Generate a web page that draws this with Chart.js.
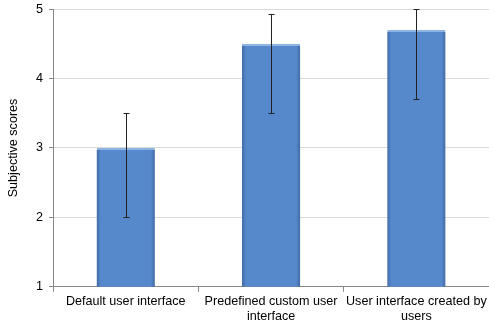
<!DOCTYPE html>
<html>
<head>
<meta charset="utf-8">
<script src="https://cdn.jsdelivr.net/npm/chart.js@4.4.0/dist/chart.umd.min.js"></script>
<style>
  html, body { margin: 0; padding: 0; background: #fff; }
  .chart-container { width: 489px; height: 324px; position: relative; }
</style>
</head>
<body>
<div class="chart-container"><canvas id="scoresChart"></canvas></div>
<script>
const categories = [
    'Default user interface',
    ['Predefined custom user', 'interface'],
    ['User interface created by', 'users']
];
const scores = [3.0, 4.5, 4.7];       // bar heights
const errLow = [2.0, 3.5, 3.7];       // lower end of error bar
const errHigh = [3.5, 4.93, 5.0];     // upper end of error bar
const yTicks = [1, 2, 3, 4, 5];

const ctx = document.getElementById('scoresChart').getContext('2d');
const labelFont = { family: 'Liberation Sans', size: 12.6 };

// Excel style shading on the sides of each bar
const barShade = {
    id: 'barShade',
    afterDatasetsDraw(chart) {
        const c = chart.ctx;
        const meta = chart.getDatasetMeta(0);
        const bottom = chart.chartArea.bottom;
        c.save();
        meta.data.forEach(bar => {
            const x0 = bar.x - bar.width / 2;
            const x1 = bar.x + bar.width / 2;
            const h = bottom - bar.y - 2;
            const gl = c.createLinearGradient(x0, 0, x0 + 4, 0);
            gl.addColorStop(0, 'rgba(40,70,120,0.45)');
            gl.addColorStop(1, 'rgba(40,70,120,0)');
            c.fillStyle = gl;
            c.fillRect(x0, bar.y + 2, 4, h);
            const gr = c.createLinearGradient(x1 - 4, 0, x1, 0);
            gr.addColorStop(0, 'rgba(40,70,120,0)');
            gr.addColorStop(1, 'rgba(40,70,120,0.45)');
            c.fillStyle = gr;
            c.fillRect(x1 - 4, bar.y + 2, 4, h);
        });
        c.restore();
    }
};

// Draw the error bars from errLow / errHigh
const errorBars = {
    id: 'errorBars',
    afterDatasetsDraw(chart) {
        const c = chart.ctx;
        const y = chart.scales.y;
        const meta = chart.getDatasetMeta(0);
        c.save();
        c.strokeStyle = '#222';
        c.lineWidth = 1;
        meta.data.forEach((bar, i) => {
            const x = Math.round(bar.x) + 0.5;
            const top = y.getPixelForValue(errHigh[i]);
            const bot = y.getPixelForValue(errLow[i]);
            c.beginPath();
            c.moveTo(x, top);
            c.lineTo(x, bot);
            c.moveTo(x - 3, Math.round(top) + 0.5);
            c.lineTo(x + 3, Math.round(top) + 0.5);
            c.moveTo(x - 3, Math.round(bot) + 0.5);
            c.lineTo(x + 3, Math.round(bot) + 0.5);
            c.stroke();
        });
        c.restore();
    }
};

const scoresChart = new Chart(ctx, {
    type: 'bar',
    data: {
        labels: categories,
        datasets: [{
            data: scores,
            backgroundColor: '#5688CC',
            borderColor: '#8DB4E3',
            borderWidth: { top: 2, left: 0, right: 0, bottom: 0 },
            borderSkipped: false,
            categoryPercentage: 1.0,
            barPercentage: 0.4
        }]
    },
    options: {
        responsive: true,
        maintainAspectRatio: false,
        animation: false,
        layout: { padding: { top: 0, right: 0, left: 6, bottom: -2 } },
        plugins: {
            legend: { display: false },
            tooltip: { enabled: false }
        },
        scales: {
            x: {
                grid: {
                    drawOnChartArea: false,
                    color: '#868686',
                    tickLength: 5
                },
                border: { color: '#868686' },
                ticks: {
                    color: '#000',
                    font: labelFont,
                    maxRotation: 0,
                    autoSkip: false,
                    padding: 2
                }
            },
            y: {
                min: 1,
                max: 5,
                afterBuildTicks: axis => { axis.ticks = yTicks.map(v => ({ value: v })); },
                grid: {
                    color: '#D9D9D9',
                    tickColor: '#868686',
                    tickLength: 4
                },
                border: { color: '#868686' },
                ticks: {
                    color: '#000',
                    font: { family: 'Liberation Sans', size: 12.6, lineHeight: 0.5 },
                    padding: 6
                },
                title: {
                    display: true,
                    text: 'Subjective scores',
                    color: '#000',
                    font: labelFont,
                    padding: { top: 0, bottom: 9 }
                }
            }
        }
    },
    plugins: [barShade, errorBars]
});
</script>
</body>
</html>
